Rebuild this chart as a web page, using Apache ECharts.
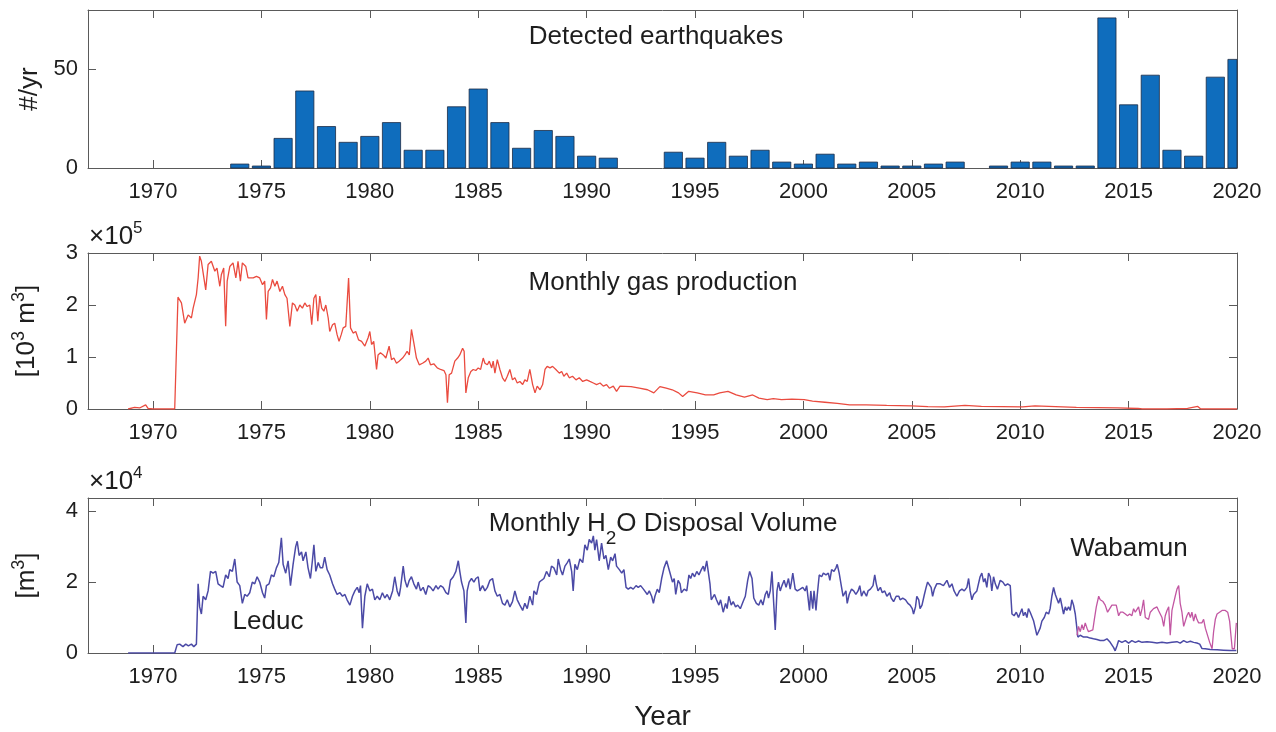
<!DOCTYPE html>
<html>
<head>
<meta charset="utf-8">
<script src="https://cdn.jsdelivr.net/npm/echarts@6/dist/echarts.min.js"></script>
<style>
  html, body { margin: 0; padding: 0; background: #fff; }
  #chart { width: 1276px; height: 732px; }
</style>
</head>
<body>
<div id="chart"></div>
<script>
// tick positions shared by the three panels
const yearTicks = [1970, 1975, 1980, 1985, 1990, 1995, 2000, 2005, 2010, 2015, 2020];

// detected earthquakes per year (years with none are left out)
const quakeYears = [1974, 1975, 1976, 1977, 1978, 1979, 1980, 1981, 1982, 1983, 1984, 1985, 1986, 1987, 1988, 1989, 1990, 1991,
  1994, 1995, 1996, 1997, 1998, 1999, 2000, 2001, 2002, 2003, 2004, 2005, 2006, 2007, 2009, 2010, 2011, 2012, 2013,
  2014, 2015, 2016, 2017, 2018, 2019, 2020];
const quakeCounts = [2, 1, 15, 39, 21, 13, 16, 23, 9, 9, 31, 40, 23, 10, 19, 16, 6, 5,
  8, 5, 13, 6, 9, 3, 2, 7, 2, 3, 1, 1, 2, 3, 1, 3, 3, 1, 1,
  76, 32, 47, 9, 6, 46, 55];

// monthly gas production, [year, x1e5 (10^3 m^3)]
const gasProduction = [
  [1968.85, 0], [1969.15, 0.03], [1969.38, 0.02], [1969.66, 0.08], [1969.77, 0.01], [1970, 0], [1971.0, 0],
  [1971.15, 2.15], [1971.31, 2.04], [1971.46, 1.65], [1971.62, 1.81], [1971.77, 1.75], [1971.85, 1.94], [1972.0, 2.2],
  [1972.08, 2.52], [1972.15, 2.94], [1972.23, 2.84], [1972.31, 2.87], [1972.43, 2.29], [1972.54, 2.78], [1972.69, 2.84],
  [1972.85, 2.65], [1972.95, 2.71], [1973.08, 2.36], [1973.15, 2.58], [1973.26, 2.71], [1973.35, 1.59], [1973.42, 2.46],
  [1973.54, 2.74], [1973.69, 2.81], [1973.82, 2.52], [1973.92, 2.84], [1974.03, 2.46], [1974.12, 2.81], [1974.28, 2.74],
  [1974.38, 2.52], [1974.46, 2.49], [1974.62, 2.52], [1974.77, 2.55], [1974.92, 2.52], [1975.05, 2.39], [1975.15, 2.46],
  [1975.23, 1.72], [1975.31, 2.26], [1975.42, 2.33], [1975.51, 2.49], [1975.62, 2.36], [1975.72, 2.46], [1975.85, 2.26],
  [1975.97, 2.36], [1976.08, 2.2], [1976.18, 2.13], [1976.31, 1.59], [1976.43, 2.04], [1976.54, 2.0], [1976.65, 1.88],
  [1976.77, 2.0], [1976.89, 1.94], [1977.0, 2.04], [1977.11, 1.97], [1977.23, 2.0], [1977.32, 1.62], [1977.42, 2.13],
  [1977.51, 2.2], [1977.6, 1.69], [1977.69, 2.17], [1977.78, 1.94], [1977.88, 1.88], [1977.97, 2.0], [1978.08, 1.75],
  [1978.15, 1.49], [1978.28, 1.62], [1978.38, 1.65], [1978.49, 1.43], [1978.58, 1.30], [1978.68, 1.43], [1978.77, 1.56],
  [1978.89, 1.59], [1979.02, 2.52], [1979.11, 1.56], [1979.23, 1.46], [1979.35, 1.49], [1979.48, 1.33], [1979.62, 1.30],
  [1979.77, 1.21], [1979.92, 1.37], [1980.0, 1.49], [1980.08, 1.24], [1980.18, 1.30], [1980.31, 0.76], [1980.38, 1.04],
  [1980.49, 1.08], [1980.62, 1.04], [1980.74, 0.98], [1980.89, 1.21], [1981.0, 0.95], [1981.11, 0.98], [1981.23, 0.88],
  [1981.35, 0.92], [1981.51, 0.98], [1981.62, 1.04], [1981.72, 1.11], [1981.82, 1.04], [1981.92, 1.53], [1982.03, 1.27],
  [1982.15, 0.98], [1982.28, 0.85], [1982.43, 0.88], [1982.58, 0.92], [1982.69, 0.98], [1982.8, 0.85], [1982.95, 0.87],
  [1983.11, 0.79], [1983.26, 0.76], [1983.42, 0.74], [1983.51, 0.66], [1983.58, 0.12], [1983.66, 0.66], [1983.77, 0.69],
  [1983.92, 0.92], [1984.05, 0.98], [1984.15, 1.04], [1984.28, 1.17], [1984.35, 1.11], [1984.43, 0.31], [1984.54, 0.6],
  [1984.66, 0.72], [1984.77, 0.76], [1984.89, 0.74], [1985.0, 0.79], [1985.11, 0.76], [1985.23, 0.98], [1985.31, 0.88],
  [1985.42, 0.85], [1985.51, 0.92], [1985.62, 0.79], [1985.69, 0.92], [1985.77, 0.69], [1985.88, 0.95], [1986.0, 0.76],
  [1986.12, 0.6], [1986.23, 0.53], [1986.34, 0.63], [1986.46, 0.76], [1986.58, 0.56], [1986.69, 0.6], [1986.8, 0.5],
  [1986.92, 0.53], [1987.05, 0.47], [1987.15, 0.56], [1987.26, 0.53], [1987.38, 0.76], [1987.51, 0.47], [1987.62, 0.31],
  [1987.72, 0.44], [1987.85, 0.37], [1987.97, 0.47], [1988.08, 0.76], [1988.18, 0.82], [1988.31, 0.79], [1988.43, 0.82],
  [1988.58, 0.76], [1988.74, 0.69], [1988.85, 0.72], [1988.95, 0.63], [1989.08, 0.69], [1989.2, 0.6], [1989.35, 0.63],
  [1989.51, 0.56], [1989.66, 0.6], [1989.82, 0.53], [1990.0, 0.56], [1990.15, 0.53], [1990.31, 0.5], [1990.46, 0.47],
  [1990.62, 0.5], [1990.77, 0.44], [1990.92, 0.47], [1991.05, 0.4], [1991.23, 0.44], [1991.38, 0.34], [1991.54, 0.44],
  [1992.05, 0.43], [1992.43, 0.40], [1992.81, 0.37], [1993.1, 0.31], [1993.38, 0.43], [1993.67, 0.40], [1993.95, 0.37],
  [1994.24, 0.31], [1994.43, 0.24], [1994.71, 0.34], [1995.1, 0.31], [1995.48, 0.27], [1995.86, 0.27], [1996.14, 0.31],
  [1996.52, 0.34], [1996.9, 0.27], [1997.28, 0.23], [1997.66, 0.27], [1997.95, 0.21], [1998.33, 0.18], [1998.61, 0.2],
  [1998.99, 0.18], [1999.47, 0.19], [2000.04, 0.18], [2000.42, 0.15], [2000.99, 0.13], [2001.56, 0.11], [2002.13, 0.08],
  [2002.89, 0.08], [2003.84, 0.07], [2004.98, 0.06], [2005.74, 0.045], [2006.5, 0.04], [2007.45, 0.07], [2008.21, 0.05],
  [2009.16, 0.045], [2010.11, 0.04], [2010.68, 0.06], [2011.63, 0.045], [2012.59, 0.03], [2013.54, 0.025], [2014.49, 0.02],
  [2015.44, 0.01], [2015.63, 0], [2016.77, 0], [2017.72, 0.01], [2018.19, 0.05], [2018.33, 0], [2020, 0]
];

// monthly H2O disposal, Leduc formation, [year, x1e4 m^3]
const leducVolume = [
  [1968.85, 0], [1971.0, 0], [1971.11, 0.23], [1971.23, 0.25], [1971.38, 0.18], [1971.51, 0.25], [1971.63, 0.2],
  [1971.77, 0.25], [1971.88, 0.18], [1972.0, 0.25], [1972.08, 1.95], [1972.15, 1.3], [1972.23, 1.1], [1972.31, 1.6],
  [1972.43, 1.5], [1972.54, 1.75], [1972.65, 2.3], [1972.77, 2.25], [1972.89, 2.3], [1973.0, 1.95], [1973.11, 1.9],
  [1973.23, 1.85], [1973.35, 2.2], [1973.46, 2.1], [1973.54, 2.35], [1973.66, 2.3], [1973.77, 2.65], [1973.88, 2.0],
  [1974.0, 1.9], [1974.12, 1.4], [1974.23, 1.65], [1974.34, 1.6], [1974.46, 1.7], [1974.58, 2.0], [1974.69, 1.95],
  [1974.8, 2.15], [1974.92, 2.0], [1975.05, 1.7], [1975.15, 1.55], [1975.23, 1.9], [1975.35, 1.95], [1975.46, 2.2],
  [1975.57, 2.15], [1975.69, 2.4], [1975.8, 2.55], [1975.92, 3.25], [1976.0, 2.5], [1976.12, 2.25], [1976.23, 2.6],
  [1976.34, 1.9], [1976.46, 2.5], [1976.58, 3.0], [1976.65, 3.15], [1976.74, 2.75], [1976.85, 2.85], [1976.92, 2.6],
  [1977.05, 2.85], [1977.15, 2.4], [1977.26, 2.1], [1977.35, 2.6], [1977.42, 3.05], [1977.51, 2.3], [1977.62, 2.55],
  [1977.72, 2.4], [1977.82, 2.4], [1977.92, 2.7], [1978.03, 2.35], [1978.15, 2.2], [1978.28, 1.95], [1978.38, 1.8],
  [1978.49, 1.65], [1978.62, 1.7], [1978.74, 1.6], [1978.85, 1.65], [1978.95, 1.5], [1979.08, 1.35], [1979.2, 1.6],
  [1979.31, 1.75], [1979.42, 1.85], [1979.51, 1.7], [1979.57, 1.9], [1979.66, 0.7], [1979.77, 1.6], [1979.88, 1.95],
  [1980.0, 1.75], [1980.12, 1.8], [1980.23, 1.5], [1980.34, 1.6], [1980.46, 1.5], [1980.58, 1.7], [1980.69, 1.55],
  [1980.8, 1.65], [1980.92, 1.5], [1981.05, 1.75], [1981.15, 2.15], [1981.26, 1.75], [1981.35, 1.6], [1981.42, 1.85],
  [1981.54, 2.45], [1981.62, 2.05], [1981.72, 1.85], [1981.82, 2.05], [1981.92, 2.15], [1982.03, 1.95], [1982.15, 1.8],
  [1982.23, 2.0], [1982.34, 1.75], [1982.46, 1.85], [1982.58, 1.65], [1982.69, 1.9], [1982.8, 1.85], [1982.92, 1.75],
  [1983.05, 1.9], [1983.15, 1.8], [1983.26, 1.9], [1983.38, 1.85], [1983.51, 1.7], [1983.62, 1.65], [1983.72, 2.05],
  [1983.85, 2.15], [1983.97, 2.3], [1984.08, 2.6], [1984.15, 2.3], [1984.23, 2.0], [1984.34, 1.75], [1984.43, 0.85],
  [1984.49, 1.75], [1984.58, 2.0], [1984.69, 2.1], [1984.8, 2.0], [1984.89, 2.1], [1985.0, 2.15], [1985.08, 1.75],
  [1985.2, 1.9], [1985.31, 1.75], [1985.42, 1.85], [1985.54, 2.05], [1985.66, 2.1], [1985.77, 1.75], [1985.88, 1.6],
  [1986.0, 1.65], [1986.12, 1.4], [1986.23, 1.35], [1986.34, 1.5], [1986.46, 1.3], [1986.58, 1.45], [1986.69, 1.75],
  [1986.8, 1.5], [1986.92, 1.35], [1987.05, 1.2], [1987.15, 1.4], [1987.26, 1.25], [1987.38, 1.6], [1987.51, 1.35],
  [1987.57, 1.75], [1987.69, 1.65], [1987.82, 2.0], [1987.92, 2.05], [1988.03, 2.1], [1988.15, 2.3], [1988.28, 2.15],
  [1988.38, 2.45], [1988.49, 2.4], [1988.62, 2.2], [1988.69, 2.65], [1988.8, 2.35], [1988.89, 2.2], [1989.0, 2.45],
  [1989.11, 2.55], [1989.2, 2.65], [1989.31, 2.3], [1989.38, 1.75], [1989.46, 2.5], [1989.57, 2.35], [1989.69, 2.65],
  [1989.82, 2.55], [1989.92, 3.05], [1990.03, 2.9], [1990.12, 3.2], [1990.23, 3.1], [1990.31, 3.3], [1990.38, 2.9],
  [1990.46, 3.2], [1990.58, 2.6], [1990.69, 3.1], [1990.8, 2.65], [1990.89, 2.75], [1991.0, 2.35], [1991.11, 2.7],
  [1991.2, 2.6], [1991.31, 2.8], [1991.38, 2.45], [1991.51, 2.35], [1991.62, 2.25], [1991.72, 2.35], [1991.82, 1.85],
  [1991.92, 1.8], [1992.03, 1.85], [1992.15, 1.8], [1992.28, 1.9], [1992.38, 1.85], [1992.49, 1.9], [1992.62, 1.8],
  [1992.69, 1.75], [1992.8, 1.65], [1992.89, 1.75], [1993.0, 1.6], [1993.08, 1.4], [1993.15, 1.6], [1993.26, 1.8],
  [1993.35, 1.7], [1993.46, 2.1], [1993.57, 2.4], [1993.69, 2.6], [1993.85, 2.25], [1993.96, 2.0], [1994.04, 2.1],
  [1994.11, 1.65], [1994.22, 2.05], [1994.31, 1.95], [1994.37, 1.7], [1994.5, 1.8], [1994.62, 1.75], [1994.72, 2.2],
  [1994.8, 2.1], [1994.88, 2.25], [1994.98, 2.15], [1995.08, 2.3], [1995.18, 2.2], [1995.29, 2.35], [1995.38, 2.45],
  [1995.44, 2.3], [1995.54, 2.6], [1995.6, 2.65], [1995.69, 1.95], [1995.75, 1.5], [1995.84, 1.45], [1995.9, 1.65],
  [1995.99, 1.5], [1996.1, 1.35], [1996.18, 1.5], [1996.3, 1.15], [1996.41, 1.4], [1996.48, 1.25], [1996.56, 1.6],
  [1996.67, 1.35], [1996.76, 1.45], [1996.87, 1.3], [1996.97, 1.35], [1997.09, 1.25], [1997.22, 1.45], [1997.32, 1.6],
  [1997.43, 2.05], [1997.52, 2.3], [1997.63, 2.1], [1997.71, 1.55], [1997.83, 1.4], [1997.94, 1.35], [1998.04, 1.5],
  [1998.13, 1.35], [1998.24, 1.65], [1998.32, 1.75], [1998.39, 1.55], [1998.47, 1.75], [1998.55, 2.3], [1998.62, 1.5],
  [1998.7, 0.65], [1998.78, 1.75], [1998.85, 2.0], [1998.93, 1.75], [1999.01, 1.9], [1999.11, 2.05], [1999.2, 1.85],
  [1999.31, 2.1], [1999.39, 1.8], [1999.46, 2.05], [1999.51, 2.25], [1999.62, 1.8], [1999.72, 1.75], [1999.85, 1.8],
  [1999.97, 1.85], [2000.08, 1.75], [2000.15, 1.9], [2000.28, 1.2], [2000.34, 1.75], [2000.43, 1.25], [2000.49, 1.75],
  [2000.58, 1.2], [2000.64, 1.65], [2000.73, 2.2], [2000.84, 2.15], [2000.92, 2.25], [2001.04, 2.2], [2001.15, 2.25],
  [2001.22, 2.05], [2001.3, 2.35], [2001.41, 2.3], [2001.5, 2.4], [2001.56, 2.5], [2001.65, 2.25], [2001.76, 1.85],
  [2001.83, 1.6], [2001.96, 1.75], [2002.02, 1.4], [2002.11, 1.65], [2002.22, 1.8], [2002.32, 1.75], [2002.42, 1.65],
  [2002.52, 1.75], [2002.6, 1.9], [2002.68, 1.6], [2002.78, 1.75], [2002.91, 1.6], [2002.98, 1.75], [2003.09, 1.8],
  [2003.21, 1.9], [2003.29, 2.2], [2003.36, 1.95], [2003.44, 1.75], [2003.55, 1.85], [2003.64, 1.7], [2003.75, 1.75],
  [2003.85, 1.6], [2003.98, 1.7], [2004.05, 1.55], [2004.16, 1.45], [2004.28, 1.6], [2004.4, 1.6], [2004.46, 1.5],
  [2004.58, 1.55], [2004.71, 1.5], [2004.82, 1.4], [2004.92, 1.35], [2005.02, 1.25], [2005.08, 1.1], [2005.17, 1.3],
  [2005.23, 1.6], [2005.32, 1.5], [2005.38, 1.25], [2005.47, 1.35], [2005.58, 1.65], [2005.66, 1.85], [2005.73, 2.0],
  [2005.81, 2.05], [2005.89, 1.85], [2005.96, 1.6], [2006.04, 1.8], [2006.15, 1.95], [2006.24, 1.9], [2006.31, 1.95],
  [2006.46, 1.9], [2006.62, 2.05], [2006.74, 1.85], [2006.85, 1.95], [2006.95, 1.75], [2007.08, 1.6], [2007.2, 1.75],
  [2007.31, 1.8], [2007.42, 1.75], [2007.54, 1.85], [2007.62, 2.1], [2007.69, 1.75], [2007.77, 1.5], [2007.85, 1.65],
  [2007.92, 1.6], [2008.0, 1.75], [2008.08, 1.7], [2008.15, 2.15], [2008.23, 2.25], [2008.31, 2.0], [2008.38, 2.1],
  [2008.46, 1.85], [2008.54, 2.25], [2008.62, 2.15], [2008.69, 1.75], [2008.77, 2.15], [2008.85, 1.95], [2008.95, 1.8],
  [2009.08, 2.05], [2009.2, 2.0], [2009.31, 1.9], [2009.42, 1.95], [2009.54, 1.9], [2009.62, 1.1], [2009.72, 1.05],
  [2009.82, 1.15], [2009.92, 1.0], [2010.0, 0.95], [2010.08, 1.25], [2010.15, 1.05], [2010.23, 1.15], [2010.31, 1.0],
  [2010.38, 1.25], [2010.46, 1.15], [2010.54, 1.1], [2010.62, 0.9], [2010.69, 0.9], [2010.77, 0.5], [2010.85, 0.45],
  [2010.92, 0.7], [2011.0, 0.9], [2011.11, 1.0], [2011.2, 1.15], [2011.31, 1.1], [2011.38, 1.25], [2011.46, 1.6],
  [2011.54, 1.85], [2011.62, 1.65], [2011.69, 1.7], [2011.77, 1.4], [2011.85, 1.55], [2011.92, 1.5], [2012.0, 1.1],
  [2012.08, 1.3], [2012.15, 1.2], [2012.23, 1.3], [2012.31, 1.2], [2012.38, 1.5], [2012.46, 1.35], [2012.54, 1.1],
  [2012.62, 1.05], [2012.66, 0.45], [2012.77, 0.5], [2012.92, 0.45], [2013.08, 0.45], [2013.23, 0.42], [2013.38, 0.4],
  [2013.54, 0.38], [2013.69, 0.35], [2013.85, 0.35], [2014.0, 0.4], [2014.15, 0.3], [2014.31, 0.15], [2014.38, 0.06],
  [2014.46, 0.2], [2014.54, 0.35], [2014.69, 0.3], [2014.85, 0.35], [2015.0, 0.28], [2015.15, 0.35], [2015.31, 0.3],
  [2015.46, 0.34], [2015.62, 0.3], [2015.85, 0.32], [2016.08, 0.3], [2016.31, 0.28], [2016.54, 0.3], [2016.77, 0.28],
  [2017.0, 0.3], [2017.23, 0.32], [2017.38, 0.28], [2017.54, 0.35], [2017.69, 0.3], [2017.85, 0.33], [2018.0, 0.3],
  [2018.15, 0.28], [2018.28, 0.25], [2018.38, 0.13], [2018.54, 0.12], [2018.77, 0.1], [2019.08, 0.09], [2019.38, 0.08],
  [2019.69, 0.07], [2019.97, 0.07]
];

// monthly H2O disposal, Wabamun formation, [year, x1e4 m^3]
const wabamunVolume = [
  [2012.62, 0.5], [2012.69, 0.75], [2012.77, 0.6], [2012.85, 0.8], [2012.92, 0.65], [2013.0, 0.85], [2013.08, 0.7],
  [2013.15, 0.6], [2013.23, 0.65], [2013.35, 0.65], [2013.42, 0.95], [2013.51, 1.3], [2013.62, 1.6], [2013.69, 1.5],
  [2013.82, 1.45], [2013.92, 1.35], [2014.03, 1.15], [2014.12, 1.1], [2014.23, 1.35], [2014.31, 1.4], [2014.43, 1.35],
  [2014.54, 1.05], [2014.62, 1.15], [2014.74, 1.15], [2014.85, 1.1], [2014.95, 1.05], [2015.05, 1.1], [2015.15, 1.05],
  [2015.23, 1.25], [2015.31, 1.15], [2015.38, 1.1], [2015.46, 1.3], [2015.54, 1.05], [2015.62, 1.25], [2015.69, 1.5],
  [2015.77, 1.0], [2015.85, 1.05], [2015.92, 0.95], [2016.0, 1.15], [2016.08, 1.1], [2016.15, 1.25], [2016.23, 1.2],
  [2016.31, 1.3], [2016.38, 1.2], [2016.46, 1.2], [2016.54, 1.0], [2016.62, 0.75], [2016.69, 1.05], [2016.77, 1.2],
  [2016.85, 1.3], [2016.92, 0.5], [2017.0, 1.2], [2017.08, 1.25], [2017.15, 1.6], [2017.23, 1.8], [2017.31, 1.9],
  [2017.38, 1.4], [2017.46, 1.15], [2017.54, 0.75], [2017.62, 0.8], [2017.69, 1.05], [2017.77, 1.15], [2017.85, 1.0],
  [2017.92, 1.15], [2018.0, 0.9], [2018.08, 1.1], [2018.15, 0.95], [2018.23, 0.85], [2018.31, 0.9], [2018.38, 0.85],
  [2018.46, 0.95], [2018.54, 0.7], [2018.62, 0.65], [2018.74, 0.3], [2018.85, 0.12], [2018.92, 0.6], [2019.0, 0.95],
  [2019.08, 1.1], [2019.15, 1.15], [2019.31, 1.2], [2019.46, 1.2], [2019.57, 1.15], [2019.66, 0.9], [2019.72, 0.5],
  [2019.78, 0.12], [2019.88, 0.12], [2019.97, 0.85]
];

const FONT = '"Liberation Sans", Arial, Helvetica, sans-serif';
const INK = '#1e1e1e';
const AXIS = '#5a5a5a';

let chart = echarts.init(document.getElementById('chart'));

function xAxes(grid, name) {
  let bottom = {
    type: 'value', gridIndex: grid, min: 1967, max: 2020, position: 'bottom',
    axisLine: { show: true, onZero: false, lineStyle: { color: AXIS, width: 1 } },
    axisTick: { show: true, inside: true, length: 8, customValues: yearTicks, lineStyle: { color: AXIS } },
    axisLabel: {
      customValues: yearTicks, fontSize: 22, color: INK, fontFamily: FONT, margin: 13,
      formatter: v => String(v)
    },
    splitLine: { show: false }
  };
  if (name) {
    bottom.name = name;
    bottom.nameLocation = 'middle';
    bottom.nameGap = 50;
    bottom.nameTextStyle = { fontSize: 28, color: INK, fontFamily: FONT };
  }
  let top = {
    type: 'value', gridIndex: grid, min: 1967, max: 2020, position: 'top',
    axisLine: { show: true, onZero: false, lineStyle: { color: AXIS, width: 1 } },
    axisTick: { show: true, inside: true, length: 8, customValues: yearTicks, lineStyle: { color: AXIS } },
    axisLabel: { show: false },
    splitLine: { show: false }
  };
  return [bottom, top];
}

function yAxes(grid, max, ticks, name, rich) {
  let left = {
    type: 'value', gridIndex: grid, min: 0, max: max, position: 'left',
    axisLine: { show: true, onZero: false, lineStyle: { color: AXIS, width: 1 } },
    axisTick: { show: true, inside: true, length: 8, customValues: ticks, lineStyle: { color: AXIS } },
    axisLabel: { customValues: ticks, fontSize: 22, color: INK, fontFamily: FONT, margin: 10 },
    splitLine: { show: false },
    name: name, nameLocation: 'middle', nameRotate: 90, nameGap: 45,
    nameTextStyle: { fontSize: 26, color: INK, fontFamily: FONT, rich: rich }
  };
  let right = {
    type: 'value', gridIndex: grid, min: 0, max: max, position: 'right',
    axisLine: { show: true, onZero: false, lineStyle: { color: AXIS, width: 1 } },
    axisTick: { show: true, inside: true, length: 8, customValues: ticks, lineStyle: { color: AXIS } },
    axisLabel: { show: false },
    splitLine: { show: false }
  };
  return [left, right];
}

const supRich = {
  t: { fontSize: 26, color: INK, fontFamily: FONT },
  s: { fontSize: 18, color: INK, fontFamily: FONT, padding: [0, 0, 15, 0] }
};

function label(x, y, text, rich, align) {
  return {
    type: 'text', x: x, y: y, silent: true,
    style: {
      text: text, rich: rich, fill: INK, font: '26px ' + FONT,
      align: align || 'center', verticalAlign: 'middle',
      textAlign: align || 'center', textVerticalAlign: 'middle'
    }
  };
}

const titleRich = {
  t: { fontSize: 26, color: INK, fontFamily: FONT },
  sub: { fontSize: 19, color: INK, fontFamily: FONT, padding: [30, 0, 0, 0] },
  sup: { fontSize: 17, color: INK, fontFamily: FONT, padding: [0, 0, 18, 0] }
};

// bars drawn through the axes' scale, cut at the plot box like the original
function renderQuakeBar(params, api) {
  let year = api.value(0);
  let count = api.value(1);
  let base = api.coord([year - 0.42, 0]);
  let top = api.coord([year + 0.42, count]);
  let box = params.coordSys;
  let rect = echarts.graphic.clipRectByRect(
    { x: base[0], y: top[1], width: top[0] - base[0], height: base[1] - top[1] },
    { x: box.x, y: box.y, width: box.width, height: box.height }
  );
  if (!rect) return;
  return {
    type: 'rect', shape: rect,
    style: { fill: '#0f6dbd', stroke: '#1c2b45', lineWidth: 0.8 }
  };
}

let option = {
  animation: false,
  backgroundColor: '#ffffff',
  grid: [
    { left: 88, right: 39, top: 10, height: 158 },
    { left: 88, right: 39, top: 253, height: 156 },
    { left: 88, right: 39, top: 498, height: 156 }
  ],
  xAxis: [].concat(xAxes(0), xAxes(1), xAxes(2, 'Year')),
  yAxis: [].concat(
    yAxes(0, 80, [0, 50], '#/yr'),
    yAxes(1, 3, [0, 1, 2, 3], '{t|[10}{s|3}{t| m}{s|3}{t|]}', supRich),
    yAxes(2, 4.37, [0, 2, 4], '{t|[m}{s|3}{t|]}', supRich)
  ),
  graphic: [
    label(656, 37, 'Detected earthquakes'),
    label(663, 283, 'Monthly gas production'),
    label(663, 524, '{t|Monthly H}{sub|2}{t|O Disposal Volume}', titleRich),
    label(268, 622, 'Leduc'),
    label(1129, 549, 'Wabamun'),
    label(89, 237, '{t|\u00d710}{sup|5}', titleRich, 'left'),
    label(89, 482, '{t|\u00d710}{sup|4}', titleRich, 'left')
  ],
  series: [
    {
      type: 'custom', xAxisIndex: 0, yAxisIndex: 0, renderItem: renderQuakeBar,
      encode: { x: 0, y: 1 },
      data: quakeYears.map((y, i) => [y, quakeCounts[i]])
    },
    {
      type: 'line', xAxisIndex: 2, yAxisIndex: 2, showSymbol: false, clip: true,
      lineStyle: { color: '#ea4b3f', width: 1.3 },
      data: gasProduction
    },
    {
      type: 'line', xAxisIndex: 4, yAxisIndex: 4, showSymbol: false, clip: true,
      lineStyle: { color: '#4b4aa6', width: 1.5 },
      data: leducVolume
    },
    {
      type: 'line', xAxisIndex: 4, yAxisIndex: 4, showSymbol: false, clip: true,
      lineStyle: { color: '#c256a2', width: 1.3 },
      data: wabamunVolume
    }
  ]
};
chart.setOption(option);
</script>
</body>
</html>
